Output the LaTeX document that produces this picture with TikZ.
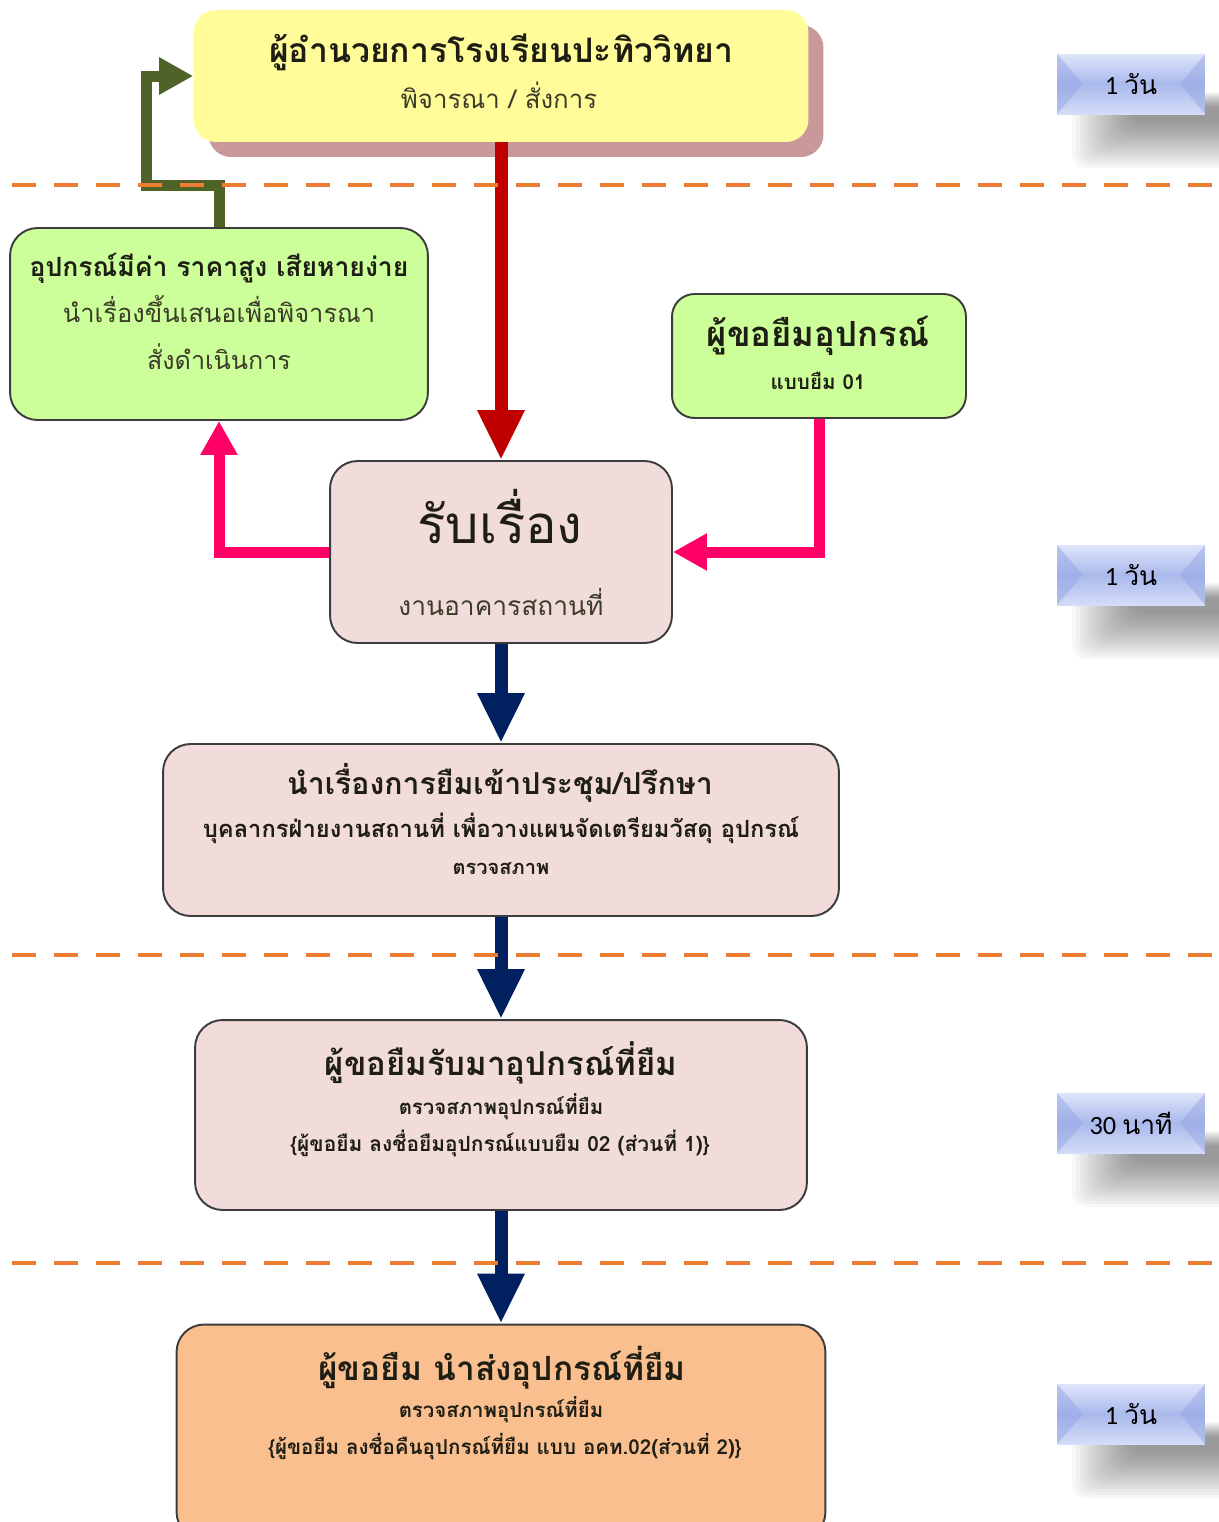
\documentclass[tikz,border=0pt]{standalone}
\usepackage{fontspec}
\usepackage{tikz}
\usetikzlibrary{arrows.meta, shadows, calc}
\newfontfamily\thaifont[Script=Thai]{Loma}
\newfontfamily\tagfont{Carlito}
\definecolor{diryellow}{RGB}{255,252,153}
\definecolor{dirshadow}{RGB}{201,153,154}
\definecolor{leafgreen}{RGB}{204,255,153}
\definecolor{steppink}{RGB}{242,220,219}
\definecolor{peach}{RGB}{250,191,143}
\definecolor{boxline}{RGB}{60,60,60}
\definecolor{redflow}{RGB}{192,0,0}
\definecolor{navyflow}{RGB}{0,32,96}
\definecolor{pinkflow}{RGB}{255,0,102}
\definecolor{oliveflow}{RGB}{79,98,40}
\definecolor{sepline}{RGB}{237,125,49}
\definecolor{titletext}{RGB}{30,30,20}
\definecolor{subtext}{RGB}{60,60,40}
\definecolor{tagtop}{RGB}{222,229,250}
\definecolor{tagmid}{RGB}{170,185,236}
\definecolor{tagside}{RGB}{150,166,228}
\newcommand{\fsz}[1]{\fontsize{#1}{#1}\selectfont}

\begin{document}
\begin{tikzpicture}[x=0.02cm, y=-0.02cm,
    box/.style={rectangle, rounded corners=0.55cm, draw=boxline, line width=1.1pt, inner sep=0pt},
    txt/.style={anchor=base, inner sep=0pt, font=\thaifont, text=titletext},
    flow/.style={line width=0.26cm, line join=miter},
    bighead/.style={-{Triangle[length=1cm, width=0.88cm]}},
    smallhead/.style={-{Triangle[length=0.68cm, width=0.7cm]}},
    tagbox/.style={rectangle, minimum width=2.96cm, minimum height=1.2cm, inner sep=0pt,
                   top color=tagtop, bottom color=tagtop!80!tagmid, middle color=tagmid,
                   font=\thaifont\fsz{15pt},
                   path picture={
                     \fill[tagside, opacity=0.5] (path picture bounding box.north west)
                       -- ($(path picture bounding box.west)+(0.52cm,0)$)
                       -- (path picture bounding box.south west) -- cycle;
                     \fill[tagside, opacity=0.5] (path picture bounding box.north east)
                       -- ($(path picture bounding box.east)+(-0.5cm,0)$)
                       -- (path picture bounding box.south east) -- cycle;}}
]
\useasboundingbox (0,0) rectangle (1218,1522);

% boxes
\node[rectangle, rounded corners=0.45cm, fill=diryellow, minimum width=12.3cm, minimum height=2.64cm,
      drop shadow={shadow xshift=0.3cm, shadow yshift=-0.3cm, fill=dirshadow, opacity=1}] (dir) at (501,76) {};
\node[box, fill=leafgreen, minimum width=8.36cm, minimum height=3.84cm] (valued) at (219,324) {};
\node[box, fill=leafgreen, rounded corners=0.45cm, minimum width=5.88cm, minimum height=2.48cm] (lend) at (819,356) {};
\node[box, fill=steppink, minimum width=6.84cm, minimum height=3.64cm] (recv) at (501,552) {};
\node[box, fill=steppink, minimum width=13.52cm, minimum height=3.44cm] (meet) at (501,830) {};
\node[box, fill=steppink, minimum width=12.24cm, minimum height=3.8cm] (take) at (501,1115) {};
\node[box, fill=peach, minimum width=12.98cm, minimum height=4.3cm] (ret) at (501,1432) {};

% texts
\node[txt, font=\thaifont\bfseries\fsz{19.2pt}] (dir-a) at (501,62) {ผู้อำนวยการโรงเรียนปะทิววิทยา};
\node[txt, font=\thaifont\fsz{14.7pt}, text=subtext] (dir-b) at (499,108) {พิจารณา / สั่งการ};
\node[txt, font=\thaifont\bfseries\fsz{15.1pt}] (valued-a) at (219,276) {อุปกรณ์มีค่า ราคาสูง เสียหายง่าย};
\node[txt, font=\thaifont\fsz{14.5pt}, text=subtext] (valued-b) at (219,322) {นำเรื่องขึ้นเสนอเพื่อพิจารณา};
\node[txt, font=\thaifont\fsz{14.3pt}, text=subtext] (valued-c) at (219,369) {สั่งดำเนินการ};
\node[txt, font=\thaifont\bfseries\fsz{19.7pt}] (lend-a) at (818,346) {ผู้ขอยืมอุปกรณ์};
\node[txt, font=\thaifont\bfseries\fsz{11.7pt}] (lend-b) at (818,389) {แบบยืม 01};
\node[txt, font=\thaifont\fsz{30pt}] (recv-a) at (500,543) {รับเรื่อง};
\node[txt, font=\thaifont\fsz{15pt}, text=subtext] (recv-b) at (501,615) {งานอาคารสถานที่};
\node[txt, font=\thaifont\bfseries\fsz{17.2pt}] (meet-a) at (500,794) {นำเรื่องการยืมเข้าประชุม/ปรึกษา};
\node[txt, font=\thaifont\bfseries\fsz{13.5pt}] (meet-b) at (501,837) {บุคลากรฝ่ายงานสถานที่ เพื่อวางแผนจัดเตรียมวัสดุ อุปกรณ์};
\node[txt, font=\thaifont\bfseries\fsz{11.4pt}] (meet-c) at (501,874) {ตรวจสภาพ};
\node[txt, font=\thaifont\bfseries\fsz{18.7pt}] (take-a) at (501,1075) {ผู้ขอยืมรับมาอุปกรณ์ที่ยืม};
\node[txt, font=\thaifont\bfseries\fsz{11.6pt}] (take-b) at (501,1114) {ตรวจสภาพอุปกรณ์ที่ยืม};
\node[txt, font=\thaifont\bfseries\fsz{11.9pt}] (take-c) at (500,1151) {\{ผู้ขอยืม ลงชื่อยืมอุปกรณ์แบบยืม 02 (ส่วนที่ 1)\}};
\node[txt, font=\thaifont\bfseries\fsz{19pt}] (ret-a) at (502,1380) {ผู้ขอยืม นำส่งอุปกรณ์ที่ยืม};
\node[txt, font=\thaifont\bfseries\fsz{11.6pt}] (ret-b) at (501,1417) {ตรวจสภาพอุปกรณ์ที่ยืม};
\node[txt, font=\thaifont\bfseries\fsz{11.7pt}] (ret-c) at (505,1454) {\{ผู้ขอยืม ลงชื่อคืนอุปกรณ์ที่ยืม แบบ อคท.02(ส่วนที่ 2)\}};

% connectors
\draw[flow, redflow, bighead] (dir.south) -- (recv.north);
\draw[flow, navyflow, bighead] (recv.south) -- (meet.north);
\draw[flow, navyflow, bighead] (meet.south) -- (take.north);
\draw[flow, navyflow, bighead] (take.south) -- (ret.north);
\draw[flow, line width=0.22cm, pinkflow, smallhead] (recv.west) -| (valued.south);
\draw[flow, line width=0.22cm, pinkflow, smallhead] (lend.south) |- (recv.east);
\draw[flow, line width=0.22cm, oliveflow, smallhead] (valued.north) |- (146,185) |- (dir.west);

% time tags
\foreach \ty/\tname/\ttext in {84/tagA/{{\tagfont 1 }วัน}, 575/tagB/{{\tagfont 1 }วัน},
                               1123/tagC/{{\tagfont 30 }นาที}, 1414/tagD/{{\tagfont 1 }วัน}} {
  \foreach \i in {0,...,15}
    \fill[black, opacity=0.032, rounded corners=0.25cm] (1072+4*\i,\ty+8+\i) rectangle (1250,\ty+84-3*\i);
  \node[tagbox] (\tname) at (1131,\ty) {\ttext};
}

% separators
\foreach \dy in {185,955,1263}
  \draw[sepline, line width=0.08cm, dash pattern=on 0.48cm off 0.36cm] (12,\dy) -- (1212,\dy);
\end{tikzpicture}
\end{document}
